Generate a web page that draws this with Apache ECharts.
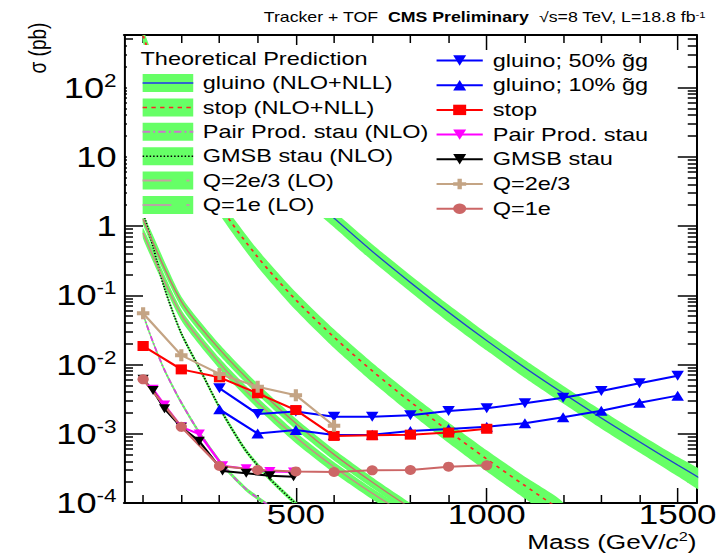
<!DOCTYPE html>
<html><head><meta charset="utf-8">
<script src="https://cdn.jsdelivr.net/npm/echarts@6/dist/echarts.min.js"></script>
<style>
html,body{margin:0;padding:0;background:#fff;overflow:hidden}
/* The reference picture is horizontally stretched; draw at native width and stretch the same way */
#c{width:578px;height:553px;transform:scaleX(1.2491);transform-origin:0 0}
</style>
</head><body><div id="c"></div>
<script>
// ---------------- DATA ----------------
// Measured cross-section limits (pb)
const gluinoMass = [300,400,500,600,700,800,900,1000,1100,1200,1300,1400,1500];
const gluino50 = [0.00453,0.00193,0.0021,0.00176,0.00176,0.00185,0.00213,0.00233,0.00275,0.00332,0.00414,0.00535,0.00689];
const gluino10 = [0.00225,0.00101,0.00113,0.00096,0.00097,0.0011,0.00117,0.00126,0.00142,0.00173,0.00215,0.00281,0.00355];
const stopMass = [100,200,300,400,500,600,700,800,900,1000];
const stopLim = [0.0185,0.0085,0.00653,0.00384,0.0022,0.00093,0.00095,0.00097,0.00104,0.00118];
const pairStauMass = [126,156,200,247,308,370,432,494];
const pairStauLim = [0.0044,0.0026,0.00126,0.00099,0.000346,0.000313,0.000286,0.00028];
const gmsbStauMass = [100,126,156,200,247,308,370,432,494];
const gmsbStauLim = [0.0061,0.0042,0.0023,0.00124,0.00078,0.00029,0.000268,0.000248,0.00024];
const q23Mass = [100,200,300,400,500,600];
const q23Lim = [0.0548,0.0136,0.0073,0.00478,0.00359,0.0013];
const q1Mass = [100,200,300,400,500,600,700,800,900,1000];
const q1Lim = [0.0061,0.00126,0.000342,0.0003,0.000286,0.00028,0.000296,0.0003,0.000335,0.00035];

// Theoretical predictions (pb) and relative band uncertainty
const gluinoThMass = [300,400,500,600,700,800,900,1000,1100,1200,1300,1400,1500,1600];
const gluinoTh = [45.1,12.7,3.93,1.30,0.431,0.153,0.0568,0.0221,0.00899,0.00384,0.00169,0.000766,0.000354,0.000167];
const gluinoThUnc = [0.25,0.25,0.26,0.26,0.27,0.27,0.28,0.28,0.29,0.29,0.30,0.30,0.31,0.31];
const stopThMass = [100,200,300,400,500,600,700,800,900,1000,1100,1200];
const stopTh = [559.8,18.52,1.996,0.3562,0.0856,0.0248,0.00811,0.0029,0.001095,0.000431,0.000178,0.000075];
const stopThUnc = [0.22,0.24,0.26,0.28,0.29,0.30,0.31,0.32,0.33,0.34,0.35,0.36];
const pairStauThMass = [100,126,156,200,247,308,370,432,494];
const pairStauTh = [0.0525,0.0209,0.00832,0.00282,0.00105,0.000355,0.000158,0.0000891,0.0000501];
const pairStauThUnc = [0.07,0.07,0.07,0.07,0.07,0.07,0.07,0.07,0.07];
const gmsbStauThMass = [100,126,156,200,247,308,370,432,494,557];
const gmsbStauTh = [1.585,0.501,0.126,0.0282,0.00891,0.002,0.000562,0.000224,0.000105,0.0000501];
const gmsbStauThUnc = [0.08,0.08,0.08,0.08,0.08,0.08,0.08,0.08,0.08,0.08];
const q23ThMass = [100,200,300,400,500,600,700,800,900];
const q23Th = [0.794,0.0525,0.0105,0.00282,0.000891,0.000331,0.000138,0.0000631,0.0000316];
const q23ThUnc = [0.18,0.18,0.18,0.18,0.18,0.18,0.18,0.18,0.18];
const q1ThMass = [100,200,300,400,500,600,700,800,900];
const q1Th = [1.259,0.0813,0.0166,0.00447,0.00141,0.000501,0.0002,0.0000851,0.0000398];
const q1ThUnc = [0.18,0.18,0.18,0.18,0.18,0.18,0.18,0.18,0.18];

// Tick values
const xMajor = [500,1000,1500];
const xMinor = [100,200,300,400,600,700,800,900,1100,1200,1300,1400];
const yMajor = [1e-4,1e-3,1e-2,1e-1,1,10,100];
const yMinorMult = [2,3,4,5,6,7,8,9];

// Legend labels
const dataNames = ['gluino; 50% g\u0303g','gluino; 10% g\u0303g','stop','Pair Prod. stau','GMSB stau','Q=2e/3','Q=1e'];
const theoryNames = ['gluino (NLO+NLL)','stop (NLO+NLL)','Pair Prod. stau (NLO)','GMSB stau (NLO)','Q=2e/3 (LO)','Q=1e (LO)'];

// ---------------- CHART ----------------
const FONT = '"Liberation Sans", Arial, Helvetica, sans-serif';
const GREEN = '#66ff66';
const pairs = (xs, ys) => xs.map((x, i) => [x, ys[i]]);
const yMinor = [];
yMajor.forEach(d => yMinorMult.forEach(m => { const v = d * m; if (v < 573) yMinor.push(v); }));

function band(name, xs, c, u) {
  return {
    type: 'custom', name: name + ' band', z: 1, silent: true, clip: true,
    data: [[xs[0], c[0]]],
    renderItem: (params, api) => {
      const up = xs.map((m, i) => api.coord([m, c[i] * (1 + u[i])]));
      const lo = xs.map((m, i) => api.coord([m, c[i] * (1 - u[i])])).reverse();
      return { type: 'polygon', shape: { points: up.concat(lo), smooth: 0.2 }, style: { fill: GREEN, stroke: null } };
    }
  };
}
function central(name, xs, ys, color, width, type) {
  return { type: 'line', name, data: pairs(xs, ys), symbol: 'none', smooth: 0.3, silent: true, clip: true, z: 2,
    lineStyle: { color, width, type } };
}
function meas(name, xs, ys, color, symbol, size, rotate) {
  return { type: 'line', name, data: pairs(xs, ys), symbol, symbolSize: size, symbolRotate: rotate || 0,
    showAllSymbol: true, clip: true, z: 3, lineStyle: { color, width: 2 }, itemStyle: { color } };
}
const PLUS = 'path://M4,0H8V4H12V8H8V12H4V8H0V4H4Z';

const axisCommon = { min: 50, max: 1550, type: 'value', splitLine: { show: false } };
const yCommon = { type: 'log', logBase: 10, min: 1e-4, max: 573, splitLine: { show: false } };

function yLabel(v) {
  const e = Math.round(Math.log10(v));
  if (e === 0) return '{b|1}';
  if (e === 1) return '{b|10}';
  return '{b|10}{s|' + e + '}';
}

const legendRows = [83, 107.4, 131.8, 156.2, 180.6, 205];
const leftLegend = [
  { type: 'rect', z: 100, shape: { x: 101.6, y: 45, width: 241, height: 173 }, style: { fill: '#fff' } },
  { type: 'text', z: 101, style: { text: 'Theoretical Prediction', x: 112.5, y: 59, fontSize: 18.8, fontFamily: FONT, fill: '#000', textVerticalAlign: 'middle', verticalAlign: 'middle' } }
];
const swatchLines = [
  { color: '#3366cc', type: 'solid', width: 2 },
  { color: '#ff2222', type: [3.5, 3.5], width: 1.5 },
  { color: '#cc77cc', type: [6, 2.5, 1.5, 2.5], width: 2 },
  { color: '#000', type: [1.2, 1.6], width: 1.5 },
  { color: '#c8a0a0', type: [23, 12, 2.5, 30], width: 2 },
  { color: '#b8a4a4', type: [23, 12, 2.5, 30], width: 2 }
];
theoryNames.forEach((n, i) => {
  const y = legendRows[i];
  leftLegend.push({ type: 'rect', z: 101, shape: { x: 114.2, y: y - 9, width: 40.5, height: 18 }, style: { fill: GREEN } });
  leftLegend.push({ type: 'line', z: 102, shape: { x1: 114.2, y1: y, x2: 154.7, y2: y },
    style: { stroke: swatchLines[i].color, lineWidth: swatchLines[i].width, lineDash: swatchLines[i].type === 'solid' ? null : swatchLines[i].type } });
  leftLegend.push({ type: 'text', z: 101, style: { text: n, x: 162.3, y: y, fontSize: 18.8, fontFamily: FONT, fill: '#000', textVerticalAlign: 'middle', verticalAlign: 'middle' } });
});

const option = {
  animation: false,
  backgroundColor: '#fff',
  grid: { left: 99.3, right: 20.2, top: 35, bottom: 50 },
  xAxis: [
    Object.assign({}, axisCommon, { position: 'bottom',
      axisLine: { lineStyle: { color: '#000', width: 2 } },
      axisTick: { inside: true, length: 15, customValues: xMajor, lineStyle: { color: '#000', width: 1.2 } },
      axisLabel: { customValues: xMajor, formatter: v => String(v), fontSize: 28, lineHeight: 28, fontFamily: FONT, color: '#000', margin: -3 } }),
    Object.assign({}, axisCommon, { position: 'bottom',
      axisLine: { show: false },
      axisTick: { inside: true, length: 8, customValues: xMinor, lineStyle: { color: '#000', width: 1.2 } },
      axisLabel: { show: false } }),
    Object.assign({}, axisCommon, { position: 'top',
      axisLine: { lineStyle: { color: '#000', width: 2 } },
      axisTick: { inside: true, length: 15, customValues: xMajor, lineStyle: { color: '#000', width: 1.2 } },
      axisLabel: { show: false } }),
    Object.assign({}, axisCommon, { position: 'top',
      axisLine: { show: false },
      axisTick: { inside: true, length: 8, customValues: xMinor, lineStyle: { color: '#000', width: 1.2 } },
      axisLabel: { show: false } })
  ],
  yAxis: [
    Object.assign({}, yCommon, { position: 'left',
      axisLine: { lineStyle: { color: '#000', width: 1.6 } },
      axisTick: { inside: true, length: 15.2, customValues: yMajor, lineStyle: { color: '#000', width: 1.5 } },
      axisLabel: { customValues: yMajor, formatter: yLabel, margin: 6, color: '#000',
        rich: { b: { fontSize: 29, fontFamily: FONT, color: '#000', lineHeight: 32 },
                s: { fontSize: 18, fontFamily: FONT, color: '#000', verticalAlign: 'top', lineHeight: 18 } } } }),
    Object.assign({}, yCommon, { position: 'left',
      axisLine: { show: false },
      axisTick: { inside: true, length: 7.2, customValues: yMinor, lineStyle: { color: '#000', width: 1.5 } },
      axisLabel: { show: false } }),
    Object.assign({}, yCommon, { position: 'right',
      axisLine: { lineStyle: { color: '#000', width: 1.6 } },
      axisTick: { inside: true, length: 15.2, customValues: yMajor, lineStyle: { color: '#000', width: 1.5 } },
      axisLabel: { show: false } }),
    Object.assign({}, yCommon, { position: 'right',
      axisLine: { show: false },
      axisTick: { inside: true, length: 7.2, customValues: yMinor, lineStyle: { color: '#000', width: 1.5 } },
      axisLabel: { show: false } })
  ],
  legend: {
    data: dataNames, orient: 'vertical', left: 343.5, top: 45.5, itemWidth: 37, itemHeight: 13, itemGap: 4.7,
    selectedMode: false,
    textStyle: { fontSize: 18.8, fontFamily: FONT, color: '#000', lineHeight: 20, padding: [0, 0, 0, 3] }
  },
  graphic: { elements: leftLegend.concat([
    { type: 'text', z: 101, style: { text: 'Tracker + TOF  {b|CMS Preliminary}  \u221As=8 TeV, L=18.8 fb{s|-1}',
      x: 564.8, y: 17, fontSize: 14.2, fontFamily: FONT, fill: '#000', textAlign: 'right', align: 'right', textVerticalAlign: 'middle', verticalAlign: 'middle',
      rich: { b: { fontSize: 14.2, fontWeight: 'bold', fontFamily: FONT, fill: '#000' }, s: { fontSize: 9, fontFamily: FONT, verticalAlign: 'top', fill: '#000' } } } },
    { type: 'text', z: 101, x: 30.4, y: 48, rotation: Math.PI / 2, style: { text: '\u03C3 (pb)', x: 0, y: 0, fontSize: 19, fontFamily: FONT, fill: '#000', textAlign: 'center', align: 'center', textVerticalAlign: 'middle', verticalAlign: 'middle' } },
    { type: 'text', z: 101, style: { text: 'Mass (GeV/{i|c}{s|2})', x: 557.6, y: 541, fontSize: 21, lineHeight: 21, fontFamily: FONT, fill: '#000', textAlign: 'right', align: 'right', textVerticalAlign: 'middle', verticalAlign: 'middle',
      rich: { i: { fontSize: 21, lineHeight: 21, fontStyle: 'italic', fontFamily: FONT, fill: '#000' }, s: { fontSize: 13, lineHeight: 13, fontFamily: FONT, verticalAlign: 'top', fill: '#000' } } } }
  ]) },
  series: [
    band('gluinoTh', gluinoThMass, gluinoTh, gluinoThUnc),
    band('stopTh', stopThMass, stopTh, stopThUnc),
    band('pairTh', pairStauThMass, pairStauTh, pairStauThUnc),
    band('gmsbTh', gmsbStauThMass, gmsbStauTh, gmsbStauThUnc),
    band('q23Th', q23ThMass, q23Th, q23ThUnc),
    band('q1Th', q1ThMass, q1Th, q1ThUnc),
    central(theoryNames[0], gluinoThMass, gluinoTh, '#2244cc', 1.2, 'solid'),
    central(theoryNames[1], stopThMass, stopTh, '#ff2222', 1.5, [3, 4]),
    central(theoryNames[2], pairStauThMass, pairStauTh, '#dd44dd', 1.5, [5, 2.5, 1.2, 2.5]),
    central(theoryNames[3], gmsbStauThMass, gmsbStauTh, '#000', 1.5, [1.2, 1.6]),
    central(theoryNames[4], q23ThMass, q23Th, '#cc8888', 1.2, 'solid'),
    central(theoryNames[5], q1ThMass, q1Th, '#c87070', 1.2, 'solid'),
    meas(dataNames[0], gluinoMass, gluino50, '#0000ff', 'triangle', [10, 10], 180),
    meas(dataNames[1], gluinoMass, gluino10, '#0000ff', 'triangle', [10, 10], 0),
    meas(dataNames[2], stopMass, stopLim, '#ff0000', 'rect', [9, 10], 0),
    meas(dataNames[3], pairStauMass, pairStauLim, '#ff00ff', 'triangle', [9, 9], 180),
    meas(dataNames[4], gmsbStauMass, gmsbStauLim, '#000000', 'triangle', [9, 9], 180),
    meas(dataNames[5], q23Mass, q23Lim, '#c4a484', PLUS, [10, 12], 0),
    meas(dataNames[6], q1Mass, q1Lim, '#cc6666', 'circle', [9, 10], 0)
  ]
};
const chart = echarts.init(document.getElementById('c'), null, { renderer: 'svg' });
chart.setOption(option);
</script>
</body></html>
